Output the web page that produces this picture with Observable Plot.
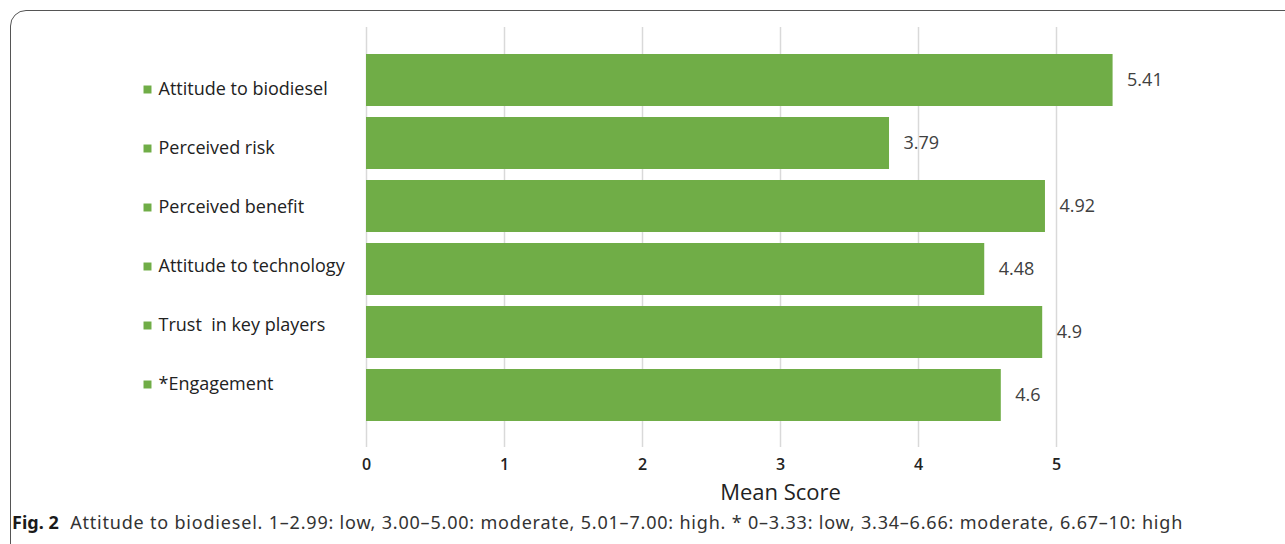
<!DOCTYPE html>
<html>
<head>
<meta charset="utf-8">
<script src="https://cdn.jsdelivr.net/npm/d3@7"></script>
<script src="https://cdn.jsdelivr.net/npm/@observablehq/plot@0.6"></script>
<style>
  html, body { margin: 0; padding: 0; background: #fff; overflow: hidden; }
  #wrap { position: relative; width: 1285px; height: 544px; }
  #box { position: absolute; left: 10px; top: 10px; width: 1320px; height: 580px;
         border: 1px solid #555; border-radius: 16px; box-sizing: border-box; }
  #chart { position: absolute; left: 0; top: 0; }
  #legend { position: absolute; left: 0; top: 0; }
  #caption { position: absolute; left: 12px; top: 512px; font-family: "Noto Sans", sans-serif;
             font-size: 18px; line-height: 20px; letter-spacing: 0.8px; color: #333; white-space: nowrap; }
  #caption b { color: #1a1a1a; margin-right: 6px; letter-spacing: 0; }
</style>
</head>
<body>
<div id="wrap">
  <div id="box"></div>
  <div id="chart"></div>
  <div id="legend"></div>
  <div id="caption"><b>Fig. 2</b> Attitude to biodiesel. 1–2.99: low, 3.00–5.00: moderate, 5.01–7.00: high. * 0–3.33: low, 3.34–6.66: moderate, 6.67–10: high</div>
</div>
<script>
const categories = ["Attitude to biodiesel", "Perceived risk", "Perceived benefit", "Attitude to technology", "Trust  in key players", "*Engagement"];
const values = [5.41, 3.79, 4.92, 4.48, 4.9, 4.6];
const valueLabels = ["5.41", "3.79", "4.92", "4.48", "4.9", "4.6"];
const xTicks = [0, 1, 2, 3, 4, 5];
const axisTitle = "Mean Score";

const data = categories.map((c, i) => ({category: c, value: values[i], label: valueLabels[i]}));
const green = "#70ad47";
const font = "'Open Sans', sans-serif";

const chart = Plot.plot({
  width: 1285,
  height: 512,
  marginTop: 27,
  marginBottom: 65,
  marginLeft: 366,
  marginRight: 91,
  style: {fontFamily: font, background: "transparent"},
  x: {domain: [0, 6], ticks: xTicks},
  y: {domain: categories, paddingInner: 0.175, paddingOuter: 0.42},
  marks: [
    Plot.gridX(xTicks, {stroke: "#d9d9d9", strokeOpacity: 1, strokeWidth: 1.5}),
    Plot.barX(data, {x: "value", y: "category", fill: green}),
    Plot.text(data, {x: "value", y: "category", text: "label", textAnchor: "start", dx: 14, dy: 0,
      fill: "#404040", fontSize: 18}),
    Plot.axisX(xTicks, {tickSize: 0, tickPadding: 11, fontSize: 16, fill: "#222", fontWeight: 600, label: null, tickFormat: d => String(d)}),
    Plot.axisY({ticks: [], label: null, tickSize: 0, tickFormat: () => ""}),
    Plot.text([axisTitle], {frameAnchor: "bottom", dy: 52, fontSize: 22, fill: "#222"})
  ]
});
document.getElementById("chart").appendChild(chart);

const legend = Plot.plot({
  width: 366,
  height: 512,
  margin: 0,
  style: {fontFamily: font, background: "transparent"},
  x: {domain: [0, 1], range: [0, 366]},
  y: {type: "point", domain: categories, range: [88, 385], padding: 0},
  axis: null,
  marks: [
    Plot.dot(categories, {y: d => d, frameAnchor: "left", dx: 147, symbol: "square", r: 4.5, fill: green, stroke: "none"}),
    Plot.text(categories, {y: d => d, text: d => d, frameAnchor: "left", dx: 158, textAnchor: "start", fontSize: 18, fill: "#222"})
  ]
});
document.getElementById("legend").appendChild(legend);
</script>
</body>
</html>
